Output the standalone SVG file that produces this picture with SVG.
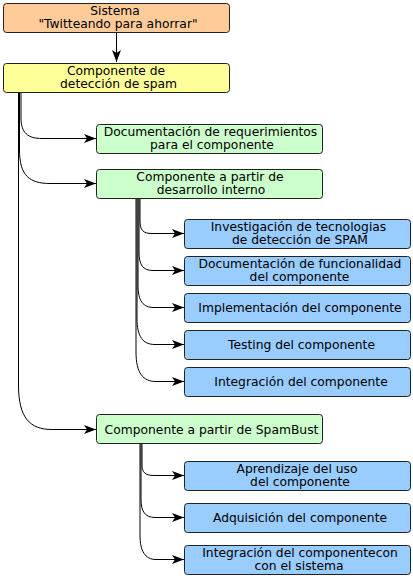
<svg xmlns="http://www.w3.org/2000/svg" width="413" height="578" viewBox="0 0 413 578">
<style>
.box{stroke:#222;stroke-width:1}
.or{fill:#ffcc99}.ye{fill:#ffff99}.gr{fill:#ccffcc}.bl{fill:#99ccff}
text{font-family:"DejaVu Sans",sans-serif;font-size:12.3px;fill:#000;text-anchor:middle}
.c{fill:none;stroke:#000;stroke-width:1;marker-end:url(#ah)}
</style>
<defs>
<marker id="ah" markerUnits="userSpaceOnUse" markerWidth="13" markerHeight="10" refX="12" refY="4.5" orient="auto">
<path d="M0,0 L12,4.5 L0,9 L3,4.5 Z" fill="#000"/>
</marker>
</defs>
<g id="connectors">
<path class="c" d="M116.5,32 V62"/>
<path class="c" d="M21,92 V118 C21,133 28,138.5 42,138.5 H96"/>
<path class="c" d="M19.5,92 V150 C19.5,176 30,183.5 50,183.5 H96"/>
<path class="c" d="M18.5,92 V385 C18.5,418 30,429.5 52,429.5 H96"/>
<path class="c" d="M140,198 V221 C140,230 143,233.5 152,233.5 H184"/>
<path class="c" d="M139,198 V252 C139,265 143,270.5 153,270.5 H184"/>
<path class="c" d="M138,198 V285 C138,301 143,307.5 154,307.5 H184"/>
<path class="c" d="M137,198 V318 C137,337 143,344.5 155,344.5 H184"/>
<path class="c" d="M136,198 V352 C136,373 143,381.5 156,381.5 H184"/>
<path class="c" d="M142,443 V465 C142,472 145,475.5 154,475.5 H184"/>
<path class="c" d="M141,443 V500 C141,511 145,517.5 155,517.5 H184"/>
<path class="c" d="M140,443 V535 C140,551 145,559.5 156,559.5 H184"/>
</g>
<g id="n-sistema"><rect class="box or" x="3.5" y="3.5" width="226" height="29" rx="3"/><text x="115" y="15">Sistema</text><text x="118" y="28">"Twitteando para ahorrar"</text></g>
<g id="n-deteccion"><rect class="box ye" x="3.5" y="63.5" width="226" height="29" rx="3"/><text x="116" y="75">Componente de</text><text x="118.5" y="88">detección de spam</text></g>
<g id="n-docreq"><rect class="box gr" x="96.5" y="124.5" width="226" height="29" rx="3"/><text x="210.5" y="136">Documentación de requerimientos</text><text x="212" y="149">para el componente</text></g>
<g id="n-interno"><rect class="box gr" x="96.5" y="169.5" width="226" height="29" rx="3"/><text x="210" y="181">Componente a partir de</text><text x="211" y="194">desarrollo interno</text></g>
<g id="n-invest"><rect class="box bl" x="184.5" y="219.5" width="226" height="29" rx="3"/><text x="298.5" y="231">Investigación de tecnologias</text><text x="300" y="244">de detección de SPAM</text></g>
<g id="n-docfunc"><rect class="box bl" x="184.5" y="256.5" width="226" height="29" rx="3"/><text x="300" y="268">Documentación de funcionalidad</text><text x="299.5" y="281">del componente</text></g>
<g id="n-impl"><rect class="box bl" x="184.5" y="293.5" width="226" height="29" rx="3"/><text x="300" y="312">Implementación del componente</text></g>
<g id="n-test"><rect class="box bl" x="184.5" y="330.5" width="226" height="29" rx="3"/><text x="301.5" y="349">Testing del componente</text></g>
<g id="n-integ"><rect class="box bl" x="184.5" y="367.5" width="226" height="29" rx="3"/><text x="301" y="386">Integración del componente</text></g>
<g id="n-spambust"><rect class="box gr" x="96.5" y="414.5" width="226" height="29" rx="3"/><text x="211.5" y="433.5">Componente a partir de SpamBust</text></g>
<g id="n-aprend"><rect class="box bl" x="184.5" y="461.5" width="226" height="29" rx="3"/><text x="297" y="473">Aprendizaje del uso</text><text x="300" y="486">del componente</text></g>
<g id="n-adq"><rect class="box bl" x="184.5" y="503.5" width="226" height="29" rx="3"/><text x="300" y="522">Adquisición del componente</text></g>
<g id="n-integsis"><rect class="box bl" x="184.5" y="545.5" width="226" height="29" rx="3"/><text x="300" y="557">Integración del componentecon</text><text x="299" y="570">con el sistema</text></g>
</svg>
